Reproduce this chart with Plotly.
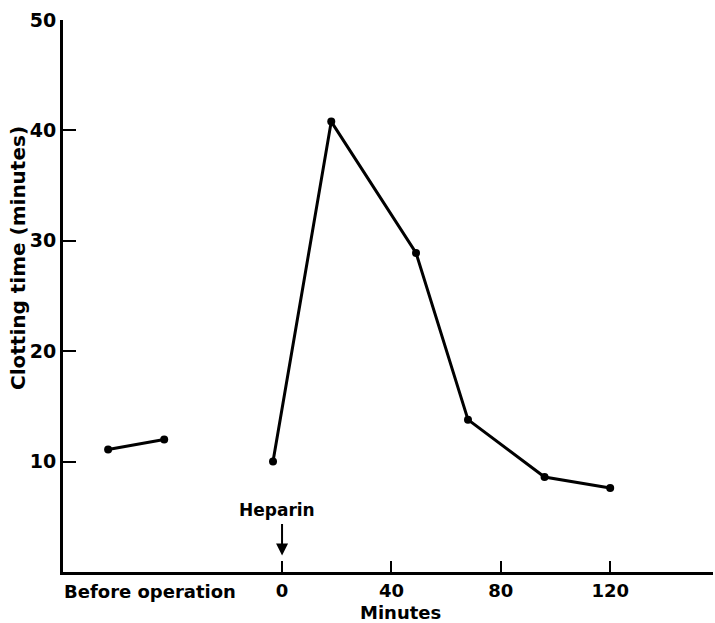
import plotly.graph_objects as go

# Data
before_x = [-63.6, -43.1]          # positions under "Before operation"
before_y = [11.1, 12.0]
after_x = [-3.3, 18, 49, 68, 96, 120]   # minutes after heparin
after_y = [10.0, 40.8, 28.9, 13.8, 8.6, 7.6]

x_tickvals = [0, 40, 80, 120]
x_ticktext = ["0", "40", "80", "120"]
y_tickvals = [10, 20, 30, 40, 50]
y_ticktext = ["10", "20", "30", "40", "50"]

L, R, T, B, W, H = 63, 2, 20, 51, 715, 623
PW, PH = W - L - R, H - T - B


def px_x(p):
    return (p - L) / PW


def px_y(p):
    return (H - B - p) / PH


FONT = dict(family="DejaVu Sans", size=18, color="black", weight="bold")

fig = go.Figure()
for xs, ys in [(before_x, before_y), (after_x, after_y)]:
    fig.add_trace(go.Scatter(
        x=xs, y=ys, mode="lines+markers",
        line=dict(color="black", width=3),
        marker=dict(color="black", size=8),
        showlegend=False, hoverinfo="skip"))

fig.update_layout(
    width=W, height=H,
    margin=dict(l=L, r=R, t=T, b=B),
    paper_bgcolor="white", plot_bgcolor="white",
    font=FONT,
    xaxis=dict(range=[-80.1, 157.6], showgrid=False, zeroline=False,
               showline=True, linecolor="black", linewidth=3,
               ticks="inside", ticklen=11, tickwidth=2, tickcolor="black",
               tickvals=x_tickvals, ticktext=x_ticktext, tickfont=FONT,
               automargin=False),
    yaxis=dict(range=[0, 50], showgrid=False, zeroline=False,
               showline=True, linecolor="black", linewidth=3,
               ticks="inside", ticklen=13, tickwidth=2, tickcolor="black",
               tickvals=y_tickvals, ticktext=y_ticktext,
               tickfont=dict(FONT, size=19),
               ticklabelstandoff=0, automargin=False),
)

common = dict(showarrow=False, xanchor="center", yanchor="middle")
# "Before operation" label
fig.add_annotation(x=px_x(150), y=px_y(591), xref="paper", yref="paper",
                   text="Before operation", font=FONT, **common)
# x title
fig.add_annotation(x=px_x(400), y=px_y(612), xref="paper", yref="paper",
                   text="Minutes", font=FONT, **common)
# Heparin label and arrow
fig.add_annotation(x=px_x(277), y=px_y(510), xref="paper", yref="paper",
                   text="Heparin", font=dict(FONT, size=17), **common)
fig.add_annotation(x=0, y=1.5, xref="x", yref="y", ax=0, ay=-33,
                   text="", showarrow=True, arrowhead=2, arrowsize=1.2,
                   arrowwidth=2, arrowcolor="black")
# y title
fig.add_annotation(x=px_x(18), y=px_y(258), xref="paper", yref="paper",
                   text="Clotting time (minutes)", textangle=-90,
                   font=dict(FONT, size=20), **common)

fig.write_html("out.html", config={"displayModeBar": False},
               post_script="document.body.style.margin='0';")
